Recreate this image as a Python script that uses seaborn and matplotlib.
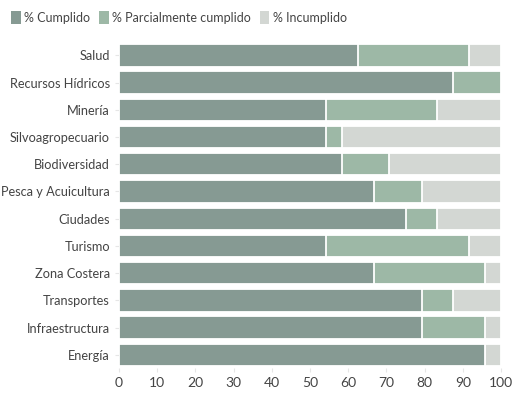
import seaborn as sns
import matplotlib.pyplot as plt
from matplotlib.patches import Patch
import numpy as np

sectores = ['Salud', 'Recursos Hídricos', 'Minería', 'Silvoagropecuario', 'Biodiversidad',
            'Pesca y Acuicultura', 'Ciudades', 'Turismo', 'Zona Costera', 'Transportes',
            'Infraestructura', 'Energía']
cumplido = [62.5, 87.5, 54.2, 54.2, 58.3, 66.7, 75.0, 54.2, 66.7, 79.2, 79.2, 95.8]
parcial = [29.2, 12.5, 29.1, 4.1, 12.5, 12.5, 8.3, 37.5, 29.1, 8.3, 16.6, 0.0]
incumplido = [8.3, 0.0, 16.7, 41.7, 29.2, 20.8, 16.7, 8.3, 4.2, 12.5, 4.2, 4.2]

series = ['% Cumplido', '% Parcialmente cumplido', '% Incumplido']
colores = ['#869a93', '#9db8a6', '#d3d7d3']

sns.set_theme(style='white')
plt.rcParams['font.family'] = ['Lato', 'DejaVu Sans']

fig = plt.figure(figsize=(5.23, 3.94), dpi=100)
ax = fig.add_axes([0.2275, 0.065, 0.7305, 0.829])

# barras apiladas: se dibuja el acumulado de mayor a menor
c1 = np.array(cumplido)
c2 = c1 + np.array(parcial)
c3 = c2 + np.array(incumplido)

for vals, col in zip([c3, c2, c1], colores[::-1]):
    sns.barplot(x=vals, y=sectores, color=col, orient='h', width=0.82,
                edgecolor='white', linewidth=1.3, saturation=1, ax=ax)

ax.set_xlim(0, 100)
ax.set_xticks(range(0, 101, 10))
ax.set_xlabel('')
ax.set_ylabel('')
sns.despine(ax=ax, left=True, bottom=True)
ax.tick_params(axis='both', colors='#e6e6e6', labelcolor='#444444',
               length=3, width=0.8, left=True, bottom=True)
ax.tick_params(axis='y', labelsize=9.2)
ax.tick_params(axis='x', labelsize=10)

handles = [Patch(facecolor=c, edgecolor='none') for c in colores]
fig.legend(handles, series, loc='upper left', bbox_to_anchor=(0.0, 1.0), ncol=3,
           frameon=False, fontsize=9, handlelength=0.75, handleheight=1.2,
           handletextpad=0.3, columnspacing=0.7, labelcolor='#444444')

fig.savefig('out.png', dpi=100)
